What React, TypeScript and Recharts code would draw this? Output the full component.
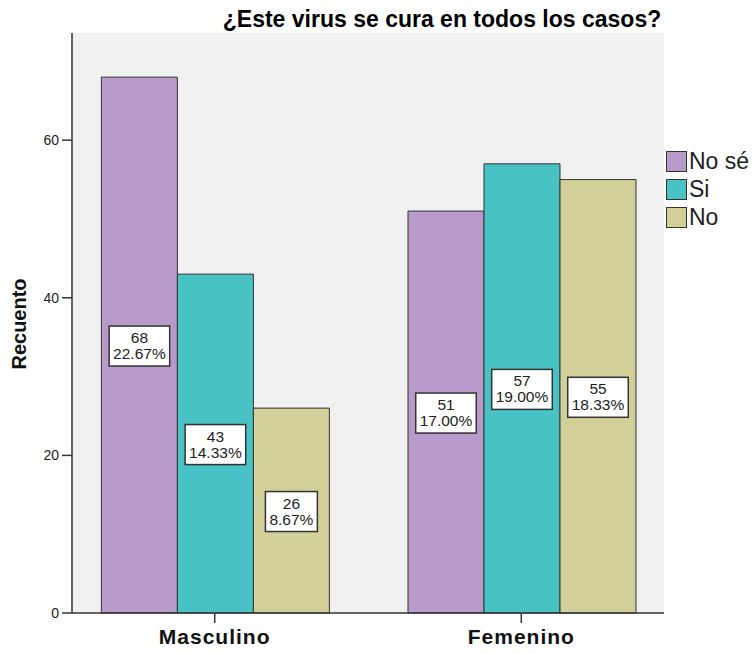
import React from 'react';
import { BarChart, Bar, XAxis, YAxis, CartesianGrid, Legend, LabelList, Label } from 'recharts';

const categories = ['Masculino', 'Femenino'];
const noSe = [68, 51];
const si = [43, 57];
const no = [26, 55];
const yTicks = [0, 20, 40, 60];
const total = 300;
const seriesKeys = ['noSe', 'si', 'no'];
const seriesNames = ['No sé', 'Si', 'No'];
const seriesColors = ['#b89aca', '#48c2c5', '#d3cf98'];
const title = '¿Este virus se cura en todos los casos?';
const yTitle = 'Recuento';

const data = categories.map((c, i) => ({ cat: c, noSe: noSe[i], si: si[i], no: no[i] }));

const FONT = "'Liberation Sans', Arial, sans-serif";
const BORDER = '#333';

const charW = (s: string, fs: number) => {
  let w = 0;
  for (const ch of s) {
    if (ch >= '0' && ch <= '9') w += 0.556;
    else if (ch === '.') w += 0.278;
    else if (ch === '%') w += 0.889;
    else w += 0.556;
  }
  return w * fs;
};

const BoxLabel = (props: any) => {
  const { x, y, width, height, value } = props;
  const cx = Number(x) + Number(width) / 2;
  const cy = Number(y) + Number(height) / 2 + 1;
  const pct = ((Number(value) / total) * 100).toFixed(2) + '%';
  const fs = 15.5;
  const w = Math.max(charW(String(value), fs), charW(pct, fs)) + 8;
  const h = 40;
  return (
    <g>
      <rect x={cx - w / 2} y={cy - h / 2} width={w} height={h} fill="#fff" stroke={BORDER} strokeWidth={1.5} />
      <text x={cx} y={cy - 3} textAnchor="middle" fontSize={fs} fill="#222" fontFamily={FONT}>{value}</text>
      <text x={cx} y={cy + 13} textAnchor="middle" fontSize={fs} fill="#222" fontFamily={FONT}>{pct}</text>
    </g>
  );
};

const LegendContent = () => (
  <div style={{ display: 'flex', flexDirection: 'column', fontFamily: FONT }}>
    {seriesNames.map((n, i) => (
      <div key={n} style={{ display: 'flex', alignItems: 'center', height: 28 }}>
        <div style={{ width: 19, height: 19, background: seriesColors[i], border: `1.5px solid ${BORDER}`, flex: 'none' }} />
        <span style={{ marginLeft: 2, fontSize: 23, color: '#222', whiteSpace: 'nowrap', lineHeight: '23px' }}>{n}</span>
      </div>
    ))}
  </div>
);

export default function App() {
  return (
    <div style={{ position: 'absolute', left: 0, top: 0, width: 752, height: 654, background: '#fff', fontFamily: FONT, overflow: 'hidden' }}>
      <BarChart
        width={752}
        height={654}
        data={data}
        margin={{ top: 33, right: 88, bottom: 0, left: 0 }}
        barCategoryGap={40}
        barGap={0}
      >
        <CartesianGrid fill="#f0f0f0" horizontal={false} vertical={false} />
        <XAxis
          dataKey="cat"
          height={41}
          padding={{ left: -10.6, right: -10.6 }}
          tickSize={10}
          tickMargin={6}
          axisLine={{ stroke: BORDER, strokeWidth: 1.5 }}
          tickLine={{ stroke: BORDER, strokeWidth: 1.5 }}
          tick={{ fontSize: 21, fontWeight: 'bold', fill: '#111', fontFamily: FONT, letterSpacing: 1 }}
        />
        <XAxis xAxisId="t" dataKey="cat" orientation="top" height={0} tick={false} tickLine={false} axisLine={{ stroke: BORDER, strokeWidth: 1.5 }} />
        <YAxis
          width={72}
          domain={[0, 73.6]}
          ticks={yTicks}
          tickSize={10}
          tickMargin={3}
          axisLine={{ stroke: BORDER, strokeWidth: 1.5 }}
          tickLine={{ stroke: BORDER, strokeWidth: 1.5 }}
          tick={{ fontSize: 14, fill: '#222', fontFamily: FONT }}
        >
          <Label
            content={() => (
              <text x={26} y={324} transform="rotate(-90 26 324)" textAnchor="middle" fontSize={20} fontWeight="bold" fill="#111" fontFamily={FONT}>
                {yTitle}
              </text>
            )}
          />
        </YAxis>
        <YAxis yAxisId="r" orientation="right" width={0} domain={[0, 73.6]} tick={false} tickLine={false} axisLine={{ stroke: BORDER, strokeWidth: 1.5 }} />
        {seriesKeys.map((k, i) => (
          <Bar key={k} dataKey={k} name={seriesNames[i]} fill={seriesColors[i]} stroke={BORDER} strokeWidth={1} isAnimationActive={false}>
            <LabelList dataKey={k} content={BoxLabel} />
          </Bar>
        ))}
        <Legend
          layout="vertical"
          align="center"
          verticalAlign="middle"
          content={LegendContent}
          wrapperStyle={{ position: 'absolute', left: 666, top: 147, width: 90, height: 90 }}
        />
        <text x={442} y={27} textAnchor="middle" fontSize={23} fontWeight="bold" fill="#000" fontFamily={FONT}>{title}</text>
      </BarChart>
    </div>
  );
}
